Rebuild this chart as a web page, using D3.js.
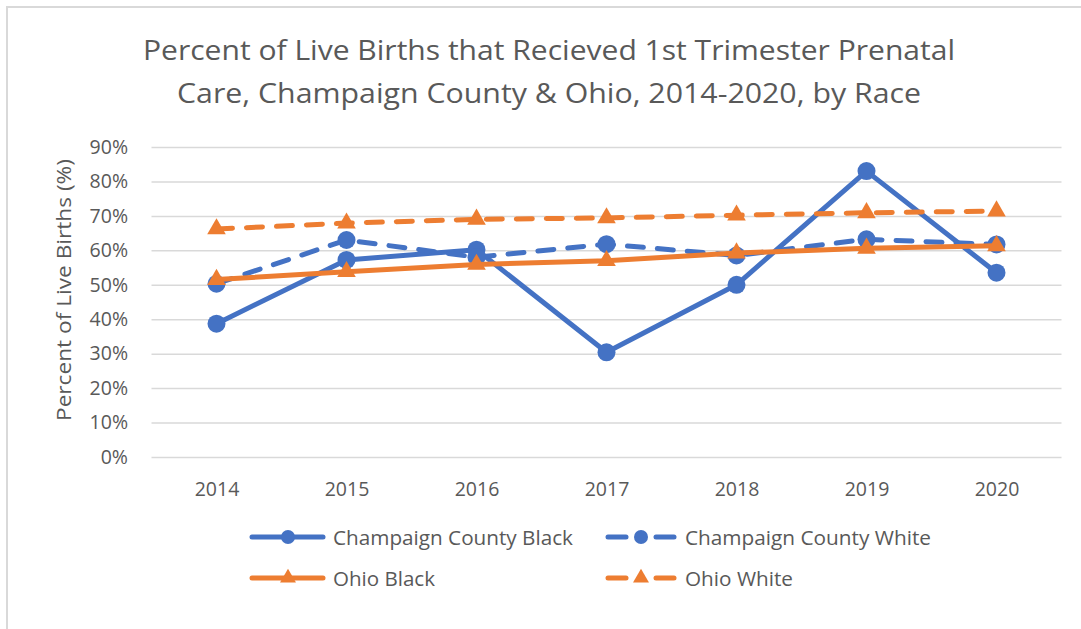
<!DOCTYPE html>
<html>
<head>
<meta charset="utf-8">
<script src="https://cdn.jsdelivr.net/npm/d3@7/dist/d3.min.js"></script>
<style>
  html, body { margin: 0; padding: 0; background: #fff; }
  svg { display: block; font-family: "Open Sans", "Noto Sans", sans-serif; }
</style>
</head>
<body>
<svg id="chart" width="1081" height="629"></svg>
<script>
// Data: percent of live births with 1st-trimester prenatal care
const years = ["2014", "2015", "2016", "2017", "2018", "2019", "2020"];
const champaignBlack = [38.7, 57.2, 60.2, 30.4, 50.0, 83.0, 53.5];
const champaignWhite = [50.3, 63.0, 58.0, 61.8, 58.5, 63.2, 61.7];
const ohioBlack = [51.5, 53.8, 55.9, 57.0, 59.2, 60.6, 61.3];
const ohioWhite = [66.2, 67.9, 69.0, 69.4, 70.2, 70.9, 71.4];
const yTicks = [0, 10, 20, 30, 40, 50, 60, 70, 80, 90];

const series = [
  { name: "Champaign County Black", values: champaignBlack, color: "#4472C4", dashed: false, marker: "circle",   labelLen: 240 },
  { name: "Champaign County White", values: champaignWhite, color: "#4472C4", dashed: true,  marker: "circle",   labelLen: 246 },
  { name: "Ohio Black",             values: ohioBlack,      color: "#ED7D31", dashed: false, marker: "triangle", labelLen: 102 },
  { name: "Ohio White",             values: ohioWhite,      color: "#ED7D31", dashed: true,  marker: "triangle", labelLen: 108 }
];

const svg = d3.select("#chart");
const textColor = "#595959";
const gridColor = "#d9d9d9";

// chart frame
svg.append("rect")
  .attr("x", 7).attr("y", 7)
  .attr("width", 1100).attr("height", 640)
  .attr("fill", "#fff")
  .attr("stroke", gridColor).attr("stroke-width", 2);

// title
const titleLines = [
  { text: "Percent of Live Births that Recieved 1st Trimester Prenatal", y: 60, len: 812 },
  { text: "Care, Champaign County & Ohio, 2014-2020, by Race", y: 103, len: 744 }
];
svg.append("g").selectAll("text").data(titleLines).join("text")
  .attr("x", 549).attr("y", d => d.y)
  .attr("text-anchor", "middle")
  .attr("font-size", 27.5)
  .attr("fill", textColor)
  .attr("textLength", d => d.len)
  .attr("lengthAdjust", "spacingAndGlyphs")
  .text(d => d.text);

// scales
const x = d3.scalePoint().domain(years).range([151.5, 1061.5]).padding(0.5);
const y = d3.scaleLinear().domain([0, 90]).range([457, 147]);

// horizontal gridlines
svg.append("g")
  .attr("transform", "translate(151.5,0)")
  .call(d3.axisLeft(y).tickValues(yTicks).tickSize(-910).tickFormat(""))
  .call(g => g.select(".domain").remove())
  .call(g => g.selectAll(".tick line").attr("stroke", gridColor).attr("stroke-width", 1.5));

// y tick labels
svg.append("g")
  .attr("transform", "translate(128,0)")
  .call(d3.axisLeft(y).tickValues(yTicks).tickSize(0).tickPadding(0).tickFormat(d => d + "%"))
  .call(g => g.select(".domain").remove())
  .call(g => g.selectAll(".tick text")
    .attr("fill", textColor).attr("font-size", 19.5)
    .attr("font-family", "'Open Sans', 'Noto Sans', sans-serif"));

// x tick labels
svg.append("g")
  .attr("transform", "translate(0,482)")
  .call(d3.axisBottom(x).tickSize(0).tickPadding(0))
  .call(g => g.select(".domain").remove())
  .call(g => g.selectAll(".tick text")
    .attr("fill", textColor).attr("font-size", 19.5)
    .attr("font-family", "'Open Sans', 'Noto Sans', sans-serif"));

// y axis title
svg.append("text")
  .attr("transform", "translate(71,290) rotate(-90)")
  .attr("text-anchor", "middle")
  .attr("font-size", 20.5)
  .attr("fill", textColor)
  .attr("textLength", 262)
  .attr("lengthAdjust", "spacingAndGlyphs")
  .text("Percent of Live Births (%)");

// marker shapes
const circleSym = d3.symbol().type(d3.symbolCircle).size(Math.PI * 9 * 9);
const triSym = d3.symbol().type(d3.symbolTriangle).size(150);
const legendCircle = d3.symbol().type(d3.symbolCircle).size(Math.PI * 7 * 7);
const legendTri = d3.symbol().type(d3.symbolTriangle).size(110);

const line = d3.line().x((d, i) => x(years[i])).y(d => y(d));

const plot = svg.append("g");
series.forEach(s => {
  const g = plot.append("g");
  g.append("path")
    .datum(s.values)
    .attr("d", line)
    .attr("fill", "none")
    .attr("stroke", s.color)
    .attr("stroke-width", 5)
    .attr("stroke-linejoin", "round")
    .attr("stroke-linecap", s.dashed ? "round" : "butt")
    .attr("stroke-dasharray", s.dashed ? "16,14" : null);
  g.selectAll("path.marker").data(s.values).join("path")
    .attr("class", "marker")
    .attr("transform", (d, i) => `translate(${x(years[i])},${y(d)})`)
    .attr("d", s.marker === "circle" ? circleSym : triSym)
    .attr("fill", s.color);
});

// legend
const legendPos = [
  { lx: 252, ly: 537 }, { lx: 606, ly: 537 },
  { lx: 252, ly: 578 }, { lx: 606, ly: 578 }
];
const legend = svg.append("g");
series.forEach((s, i) => {
  const p = legendPos[i];
  const g = legend.append("g").attr("transform", `translate(${p.lx},${p.ly})`);
  if (s.dashed) {
    [[2, 20], [50, 68]].forEach(seg => {
      g.append("line")
        .attr("x1", seg[0]).attr("x2", seg[1]).attr("y1", 0).attr("y2", 0)
        .attr("stroke", s.color).attr("stroke-width", 5).attr("stroke-linecap", "round");
    });
  } else {
    g.append("line")
      .attr("x1", 0).attr("x2", 71).attr("y1", 0).attr("y2", 0)
      .attr("stroke", s.color).attr("stroke-width", 5).attr("stroke-linecap", "round");
  }
  g.append("path")
    .attr("transform", `translate(${s.dashed ? 35 : 36},0)`)
    .attr("d", s.marker === "circle" ? legendCircle : legendTri)
    .attr("fill", s.color);
  g.append("text")
    .attr("x", s.dashed ? 79 : 81).attr("y", 7.5)
    .attr("font-size", 20.5)
    .attr("fill", textColor)
    .attr("textLength", s.labelLen)
    .attr("lengthAdjust", "spacingAndGlyphs")
    .text(s.name);
});
</script>
</body>
</html>
